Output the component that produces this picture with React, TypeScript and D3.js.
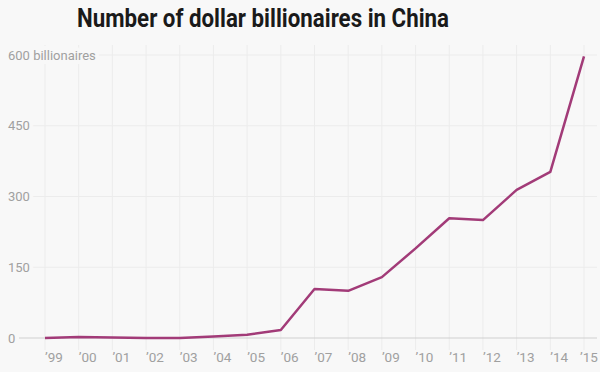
import * as d3 from 'd3';

const years = ['99', '00', '01', '02', '03', '04', '05', '06', '07', '08', '09', '10', '11', '12', '13', '14', '15'];
const billionaires = [0, 2, 1, 0, 0, 3, 7, 17, 104, 100, 129, 190, 254, 250, 314, 352, 597];
const yTicks = [0, 150, 300, 450, 600];

const W = 600;
const H = 372;
const BG = '#f8f8f8';
const LINE = '#a23b78';

export default function App() {
  const x = d3.scalePoint<string>().domain(years).range([45, 584]);
  const y = d3.scaleLinear().domain([0, 600]).range([338, 55]);

  const line = d3
    .line<number>()
    .x((_, i) => x(years[i]) as number)
    .y(d => y(d))
    .curve(d3.curveLinear);

  return (
    <div style={{ position: 'fixed', left: 0, top: 0, width: W, height: H, background: BG }}>
      <svg width={W} height={H} style={{ display: 'block', fontFamily: 'Roboto, "Noto Sans", sans-serif' }}>
        <rect width={W} height={H} fill={BG} />
        <text
          x={263}
          y={27}
          textAnchor="middle"
          fontSize={26}
          fontWeight={700}
          fill="#1a1a1a"
          textLength={372}
          lengthAdjust="spacingAndGlyphs"
        >
          Number of dollar billionaires in China
        </text>

        {/* vertical grid */}
        {years.map(yr => (
          <line key={yr} x1={x(yr)} x2={x(yr)} y1={45} y2={350} stroke="#ececec" strokeWidth={1} />
        ))}

        {/* horizontal grid + labels */}
        {yTicks.map(t => (
          <g key={t}>
            <line
              x1={t === 0 ? 19 : 8}
              x2={597}
              y1={y(t)}
              y2={y(t)}
              stroke={t === 0 ? '#cfcfcf' : '#ececec'}
              strokeWidth={t === 0 ? 1.2 : 1}
            />
            <text
              x={8}
              y={y(t)}
              dy="0.35em"
              fontSize={13}
              fill="#a0a0a0"
              stroke={BG}
              strokeWidth={t === 0 ? 0 : 8}
              paintOrder="stroke"
            >
              {t === 600 ? '600 billionaires' : t}
            </text>
          </g>
        ))}

        {/* x labels */}
        {years.map((yr, i) => (
          <text
            key={yr}
            x={(x(yr) as number) + (i === years.length - 1 ? -4 : 0)}
            y={362}
            fontSize={13.5}
            fill="#a0a0a0"
          >
            {'\u2019' + yr}
          </text>
        ))}

        <path d={line(billionaires) || ''} fill="none" stroke={LINE} strokeWidth={2.5} strokeLinejoin="round" />
      </svg>
    </div>
  );
}
